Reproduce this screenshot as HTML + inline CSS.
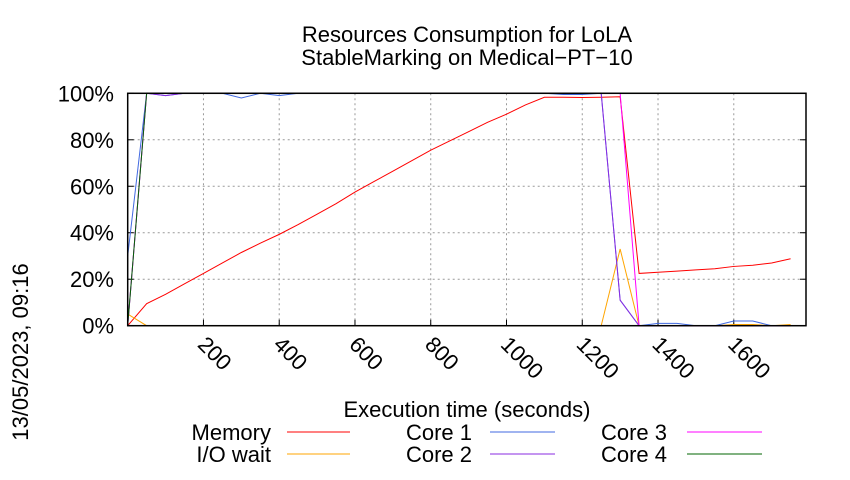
<!DOCTYPE html>
<html><head><meta charset="utf-8"><style>
body{margin:0;background:#fff}
svg{font-family:"Liberation Sans",sans-serif}
</style></head><body>
<svg id="c" width="850" height="475">
<text x="467" y="42" font-size="22" text-anchor="middle">Resources Consumption for LoLA</text>
<text x="467" y="65" font-size="22" text-anchor="middle">StableMarking on Medical−PT−10</text>
<text transform="translate(28,352) rotate(-90)" font-size="22" text-anchor="middle">13/05/2023, 09:16</text>
<text x="467" y="417" font-size="22" text-anchor="middle">Execution time (seconds)</text>
<g id="grid"></g>
<g id="ticks"></g>
<g id="series"></g>
<rect x="127.7" y="93.3" width="678.3" height="232.4" fill="none" stroke="#000" stroke-width="1.5"/>
<g id="legend"></g>
</svg>
<script>
const times=[0,50,100,150,200,250,300,350,400,450,500,550,600,650,700,750,800,850,900,950,1000,1050,1100,1150,1200,1250,1300,1350,1400,1450,1500,1550,1600,1650,1700,1750];
const memory=[0,9.5,13.5,18,22.5,27,31.5,35.5,39.3,43.5,48,52.5,57.5,62,66.5,71,75.5,79.5,83.5,87.5,91,95,98.3,98.3,98.2,98.3,98.5,22.5,23,23.5,24,24.5,25.5,26,27,28.8];
const ioWait=[5,0,0,0,0,0,0,0,0,0,0,0,0,0,0,0,0,0,0,0,0,0,0,0,0,0,33,0,0,0,0,0,0.5,0.5,0,0.5];
const core1=[30,100,99,100,100,100,98,100,99,100,100,100,100,100,100,100,100,100,100,100,100,100,100,99.5,99.5,100,11,0,1,1,0,0,2,2,0,0];
const core2=[0,100,99,100,100,100,100,100,100,100,100,100,100,100,100,100,100,100,100,100,100,100,100,100,100,100,11,0,0,0,0,0,0,0,0,0];
const core3=[0,100,100,100,100,100,100,100,100,100,100,100,100,100,100,100,100,100,100,100,100,100,100,100,100,100,100,0,0,0,0,0,0,0,0,0];
const core4=[0,100,100,100,100,100,100,100,100,100,100,100,100,100,100,100,100,100,100,100,100,100,100,100,100,100,100,100,100,100,100,100,100,100,100,100];
const xTicks=[200,400,600,800,1000,1200,1400,1600];
const yTicks=[0,20,40,60,80,100];
const X0=127.7,XS=0.3788,Y0=325.7,YS=2.324;
const sx=v=>X0+v*XS, sy=v=>Y0-v*YS;
const NS="http://www.w3.org/2000/svg";
function mk(t,a,p){const e=document.createElementNS(NS,t);for(const k in a)e.setAttribute(k,a[k]);p.appendChild(e);return e;}
const grid=document.getElementById('grid'),ticks=document.getElementById('ticks');
yTicks.forEach(v=>{
  if(v>0&&v<100){const l=mk('line',{x1:X0,x2:806,y1:sy(v),y2:sy(v),stroke:'#999','stroke-dasharray':'2,3'},grid);
  
  }
  const t=mk('text',{x:114,y:sy(v)+8,'font-size':22,'text-anchor':'end'},ticks);t.textContent=v+'%';
  
  
  mk('line',{x1:X0,x2:X0+6,y1:sy(v),y2:sy(v),stroke:'#000'},ticks);
  mk('line',{x1:800,x2:806,y1:sy(v),y2:sy(v),stroke:'#000'},ticks);
});
xTicks.forEach(v=>{
  const l=mk('line',{x1:sx(v),x2:sx(v),y1:93.3,y2:Y0,stroke:'#999','stroke-dasharray':'2,3'},grid);
  
  
  mk('line',{x1:sx(v),x2:sx(v),y1:Y0,y2:Y0-6,stroke:'#000'},ticks);
  const t=mk('text',{transform:`translate(${sx(v)-7},${Y0+20}) rotate(45)`,'font-size':22},ticks);t.textContent=v;
  
  
});
const series=[["Memory",memory,"#ff0000"],["I/O wait",ioWait,"#ffa500"],["Core 1",core1,"#4169e1"],["Core 2",core2,"#8a2be2"],["Core 3",core3,"#ff00ff"],["Core 4",core4,"#006400"]];
const sg=document.getElementById('series');
series.forEach(([n,d,c])=>{
  const p=mk('polyline',{points:d.map((v,i)=>sx(times[i])+','+sy(v)).join(' '),fill:'none',stroke:c,'stroke-width':1},sg);
  
  
});
const lg=document.getElementById('legend');
const pos=[[271,287,350,440],[271,287,350,462],[472,490,555,440],[472,490,555,462],[667,687,762,440],[667,687,762,462]];
[["Memory",0],["I/O wait",1],["Core 1",2],["Core 2",3],["Core 3",4],["Core 4",5]].forEach(([n,i])=>{
  const [tx,l1,l2,y]=pos[i];const c=series[i][2];
  const g=mk('g',{},lg);
  
  
  const t=mk('text',{x:tx,y:y,'font-size':22,'text-anchor':'end'},g);t.textContent=n;
  mk('line',{x1:l1,x2:l2,y1:y-8,y2:y-8,stroke:c},g);
});
</script>
</body></html>
